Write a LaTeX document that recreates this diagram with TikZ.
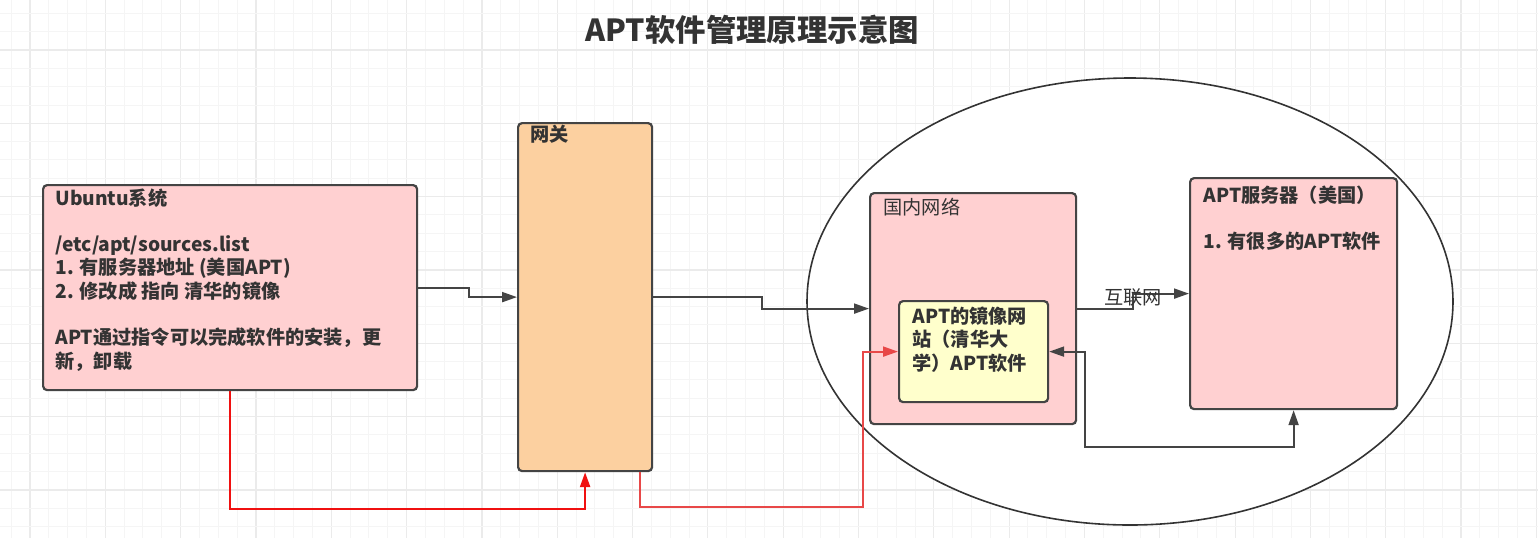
\documentclass[tikz,border=0pt]{standalone}
\usepackage{fontspec}
\setmainfont{Noto Sans CJK SC}
\usetikzlibrary{arrows.meta,shapes.geometric}
\definecolor{textc}{HTML}{333333}
\definecolor{edgec}{HTML}{444444}
\definecolor{pinkf}{HTML}{FFD0D1}
\definecolor{orangef}{HTML}{FCD0A0}
\definecolor{yellowf}{HTML}{FFFFCC}
\definecolor{gridmin}{HTML}{F5F5F5}
\definecolor{gridmaj}{HTML}{EBEBEB}
\definecolor{redA}{HTML}{F01010}
\definecolor{redB}{HTML}{E84848}
\tikzset{
  box/.style={draw=edgec, line width=1.1pt, rounded corners=2pt, inner sep=0pt, anchor=north west},
  txt/.style={inner sep=0pt, anchor=north west, align=left, text=textc,
    font=\bfseries\fontsize{9.6}{11.65}\selectfont},
  txtreg/.style={txt, font=\fontsize{9.6}{11.65}\selectfont},
  conn/.style={draw=edgec, line width=1pt, -{Triangle[length=7.5pt,width=5pt]}},
  redconn/.style={draw=redA, line width=1.2pt, -{Triangle[length=7.5pt,width=5pt]}},
  redconnb/.style={draw=redB, line width=1pt, -{Triangle[length=7.5pt,width=5pt]}},
}
\begin{document}
\begin{tikzpicture}[x=0.5pt,y=-0.5pt]
\useasboundingbox (0,0) rectangle (1538,538);
\fill[white] (0,0) rectangle (1538,538);
% grid
\foreach \k in {-1,...,81}{
  \pgfmathsetmacro\gx{30+\k*18.83}
  \pgfmathtruncatemacro\m{mod(\k+4,4)}
  \ifnum\m=0 \draw[gridmaj, line width=0.6pt] (\gx,0) -- (\gx,538);
  \else \draw[gridmin, line width=0.5pt] (\gx,0) -- (\gx,538); \fi
}
\foreach \k in {-2,...,27}{
  \pgfmathsetmacro\gy{50+\k*18.33}
  \pgfmathtruncatemacro\m{mod(\k+8,4)}
  \ifnum\m=0 \draw[gridmaj, line width=0.6pt] (0,\gy) -- (1538,\gy);
  \else \draw[gridmin, line width=0.5pt] (0,\gy) -- (1538,\gy); \fi
}
% title
\node[text=textc, font=\bfseries\fontsize{15.2}{17}\selectfont, inner sep=0pt] (title) at (752,30) {APT软件管理原理示意图};
% ellipse
\node[ellipse, draw=textc, fill=white, line width=0.8pt, minimum width=323pt, minimum height=223.5pt, inner sep=0pt] (net) at (1130,301.5) {};
% boxes
\node[box, fill=pinkf, minimum width=187pt, minimum height=102.5pt] (ubuntu) at (42,184) {};
\node[box, fill=orangef, minimum width=67pt, minimum height=174pt] (gw) at (517,122) {};
\node[box, fill=pinkf, minimum width=103pt, minimum height=115.5pt] (gn) at (869,192) {};
\node[box, fill=yellowf, minimum width=74.5pt, minimum height=50.5pt] (mirror) at (898,300) {};
\node[box, fill=pinkf, minimum width=103.5pt, minimum height=115.5pt] (srv) at (1189,177) {};
% texts
\node[txt] (ubuntutxt) at ([shift={(13,4)}]ubuntu.north west) {Ubuntu系统\\[11.65pt]/etc/apt/sources.list\\1. 有服务器地址 (美国APT)\\2. 修改成 指向 清华的镜像\\[11.65pt]APT通过指令可以完成软件的安装，更\\新，卸载};
\node[txt] (gwtxt) at ([shift={(13,3)}]gw.north west) {网关};
\node[txtreg] (gntxt) at ([shift={(14,6)}]gn.north west) {国内网络};
\node[txt] (mirrortxt) at ([shift={(14,6.5)}]mirror.north west) {APT的镜像网\\站（清华大\\学）APT软件};
\node[txt] (srvtxt) at ([shift={(14,8)}]srv.north west) {APT服务器（美国）\\[11.65pt]1. 有很多的APT软件};
% connectors
\draw[conn] (ubuntu.east) -- ++(51,0) |- (gw.west);
\draw[conn] (gw.east) -- ++(109,0) |- (gn.west);
\draw[conn] (gn.east) -- ++(56,0) |- (srv.west) coordinate[pos=0.5] (bend);
\node[txtreg, anchor=center] (inet) at ([yshift=-2pt]bend) {互联网};
\draw[conn, {Triangle[length=7.5pt,width=5pt]}-{Triangle[length=7.5pt,width=5pt]}] (mirror.east) -- ++(36,0) -- ++(0,95.5) -| (srv.south);
\draw[redconn] (ubuntu.south) -- ++(0,118) -| (gw.south);
\draw[redconnb] ([xshift=-6.5pt]gw.south east) -- ++(0,35) -- ++(223,0) |- (mirror.west);
\end{tikzpicture}
\end{document}
